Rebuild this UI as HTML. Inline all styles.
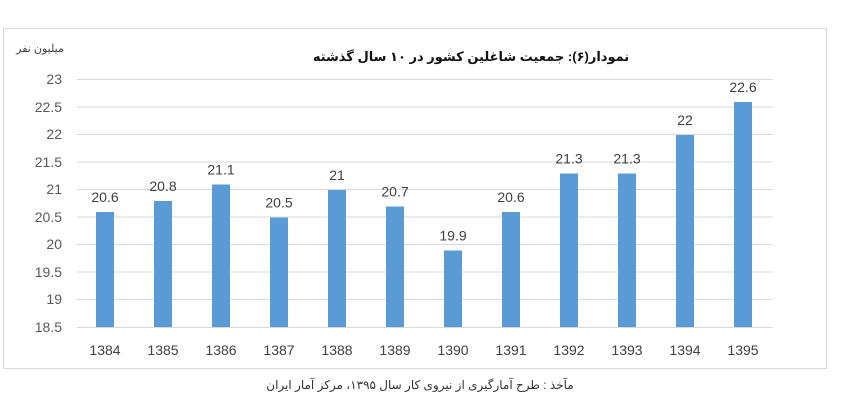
<!DOCTYPE html>
<html><head><meta charset="utf-8"><style>
body{margin:0;background:#fff;width:846px;height:404px;overflow:hidden}
svg text{font-family:"Liberation Sans","DejaVu Sans",sans-serif}
</style></head><body>
<svg width="846" height="404" xmlns="http://www.w3.org/2000/svg">
<rect x="3.5" y="28.5" width="823" height="340" fill="#fff" stroke="#d9d9d9"/>
<text x="471" y="61" text-anchor="middle" font-size="13" font-weight="bold" fill="#111" direction="rtl" font-family="'DejaVu Sans',sans-serif">نمودار(۶): جمعیت شاغلین کشور در ۱۰ سال گذشته</text>
<text x="40" y="52" text-anchor="middle" font-size="11" fill="#444" font-family="'DejaVu Sans',sans-serif">میلیون نفر</text>
<g stroke="#d9d9d9" stroke-width="1">
<line x1="77" x2="773" y1="79.5" y2="79.5"/><line x1="77" x2="773" y1="107" y2="107"/><line x1="77" x2="773" y1="134.5" y2="134.5"/><line x1="77" x2="773" y1="162" y2="162"/><line x1="77" x2="773" y1="189.5" y2="189.5"/><line x1="77" x2="773" y1="217" y2="217"/><line x1="77" x2="773" y1="244.5" y2="244.5"/><line x1="77" x2="773" y1="272" y2="272"/><line x1="77" x2="773" y1="299.5" y2="299.5"/>
</g>
<g font-size="14" fill="#595959" text-anchor="end">
<text x="62" y="84">23</text><text x="62" y="112">22.5</text><text x="62" y="139">22</text><text x="62" y="167">21.5</text><text x="62" y="194">21</text><text x="62" y="222">20.5</text><text x="62" y="249">20</text><text x="62" y="277">19.5</text><text x="62" y="304">19</text><text x="62" y="332">18.5</text>
</g>
<g fill="#5b9bd5" id="bars"></g>
<line x1="77" x2="773" y1="327.5" y2="327.5" stroke="#d9d9d9"/>
<g id="labels" font-size="14" fill="#404040" text-anchor="middle"></g>
<text x="420" y="389" text-anchor="middle" font-size="12" fill="#333" direction="rtl" font-family="'DejaVu Serif',serif">مآخذ : طرح آمارگیری از نیروی کار سال ۱۳۹۵، مرکز آمار ایران</text>
<script>
var v=[20.6,20.8,21.1,20.5,21,20.7,19.9,20.6,21.3,21.3,22,22.6];
var ns="http://www.w3.org/2000/svg",b=document.getElementById('bars'),l=document.getElementById('labels');
function y(x){return 327.5-(x-18.5)*55;}
v.forEach(function(d,i){var cx=105+i*58;
var r=document.createElementNS(ns,'rect');r.setAttribute('x',cx-9);r.setAttribute('width',18);r.setAttribute('y',y(d));r.setAttribute('height',327.5-y(d));b.appendChild(r);
var t=document.createElementNS(ns,'text');t.setAttribute('x',cx);t.setAttribute('y',y(d)-10);t.textContent=String(d);l.appendChild(t);
var t2=document.createElementNS(ns,'text');t2.setAttribute('x',cx);t2.setAttribute('y',355);t2.textContent=String(1384+i);l.appendChild(t2);});
</script>
</svg>
</body></html>
